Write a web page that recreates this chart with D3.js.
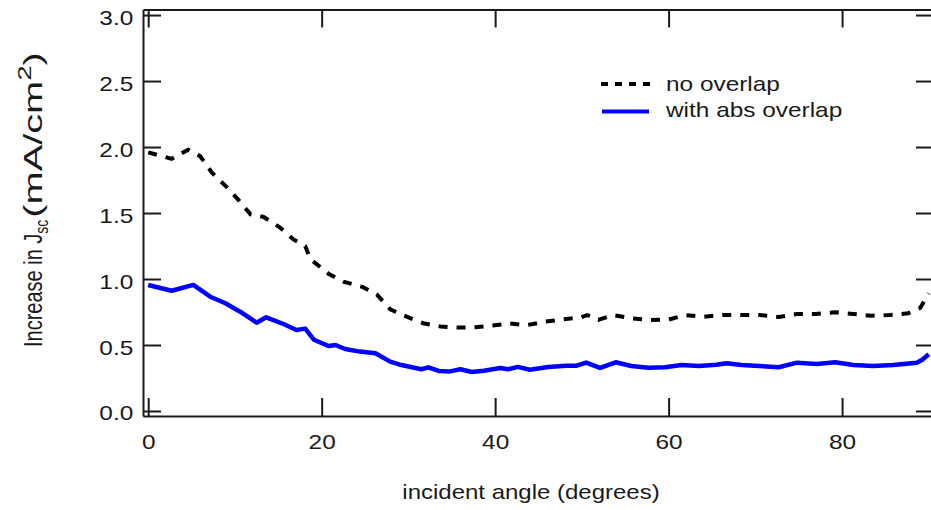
<!DOCTYPE html>
<html>
<head>
<meta charset="utf-8">
<script src="https://cdn.jsdelivr.net/npm/d3@7"></script>
<style>
  body { margin: 0; background: #fff; }
  text { font-family: "Liberation Sans", Arial, Helvetica, sans-serif; fill: #1a1a1a; }
  .axis text { font-size: 20px; }
  .axis line, .axis path { stroke: #1a1a1a; stroke-width: 2; }
</style>
</head>
<body>
<svg id="chart" width="931" height="510"></svg>
<script>
// values
var noOverlapAngle = [0, 2.7, 4.6, 6.0, 7.3, 9.0, 10.4, 11.8, 13.3, 15.2, 16.75, 18.1, 18.7, 20.8, 22.5, 24.7, 26.4, 27.9,
    29.8, 31.7, 33.7, 35.7, 37.6, 39.7, 41.7, 43.6, 45.8, 47.9, 49.9, 50.6, 51.9, 53.6, 55.7, 57.9, 60.0, 61.9,
    64.0, 66.2, 68.4, 70.5, 72.7, 74.8, 76.9, 79.2, 81.3, 83.4, 85.5, 87.6, 89.0, 90.0];
var noOverlapValue = [1.96, 1.91, 1.98, 1.93, 1.81, 1.70, 1.60, 1.49, 1.47, 1.39, 1.30, 1.25, 1.15, 1.04, 0.98, 0.94, 0.88, 0.77,
    0.715, 0.665, 0.64, 0.632, 0.634, 0.647, 0.664, 0.65, 0.677, 0.695, 0.71, 0.727, 0.69, 0.727, 0.702, 0.689, 0.692, 0.727,
    0.714, 0.727, 0.727, 0.727, 0.712, 0.735, 0.735, 0.748, 0.735, 0.722, 0.727, 0.74, 0.78, 0.89];

var absOverlapAngle = [0, 2.7, 5.2, 7.15, 8.9, 10.6, 12.5, 13.6, 15.6, 17.1, 18.1, 19.1, 20.8, 21.6, 22.7, 24.4, 26.2, 27.9,
    29.2, 31.5, 32.3, 33.5, 34.8, 36.0, 37.3, 38.7, 40.6, 41.5, 42.6, 44.0, 46.1, 48.2, 49.4, 50.5, 52.1, 53.9, 55.7,
    57.7, 59.6, 61.5, 63.5, 65.5, 66.7, 68.4, 70.5, 72.7, 74.8, 77.1, 79.2, 81.3, 83.6, 85.9, 88.6, 89.2, 90.0];
var absOverlapValue = [0.955, 0.911, 0.955, 0.866, 0.816, 0.752, 0.669, 0.71, 0.659, 0.614, 0.624, 0.54, 0.492, 0.50, 0.47, 0.45, 0.437, 0.374,
    0.348, 0.316, 0.331, 0.303, 0.30, 0.316, 0.295, 0.305, 0.325, 0.316, 0.334, 0.312, 0.333, 0.342, 0.343, 0.367, 0.326, 0.369, 0.341,
    0.327, 0.331, 0.348, 0.341, 0.35, 0.362, 0.348, 0.341, 0.331, 0.366, 0.356, 0.369, 0.348, 0.341, 0.348, 0.366, 0.386, 0.43];

var xTicks = [0, 20, 40, 60, 80];
var yTicks = [0, 0.5, 1.0, 1.5, 2.0, 2.5, 3.0];
var seriesNames = ["no overlap", "with abs overlap"];
var xTitle = "incident angle (degrees)";

var svg = d3.select("#chart"),
    plotLeft = 143, plotRight = 934, plotTop = 9.5, plotBottom = 416,
    stretch = 1.22; // the picture's text is a bit wider than Arial

var x = d3.scaleLinear().domain([-0.6, 90.6]).range([plotLeft, plotRight]);
var y = d3.scaleLinear().domain([-0.038, 3.042]).range([plotBottom, plotTop]);

// frame: four axes, ticks pointing inward
var gx = svg.append("g")
    .attr("class", "axis")
    .attr("transform", "translate(0," + plotBottom + ")")
    .call(d3.axisBottom(x).tickValues(xTicks).tickSizeInner(-18).tickSizeOuter(0).tickPadding(19).tickFormat(d3.format("d")));
gx.selectAll("text").attr("transform", "scale(" + stretch + ",1)");

var gy = svg.append("g")
    .attr("class", "axis")
    .attr("transform", "translate(" + plotLeft + ",0)")
    .call(d3.axisLeft(y).tickValues(yTicks).tickSizeInner(-18).tickSizeOuter(0).tickPadding(8).tickFormat(d3.format(".1f")));
gy.selectAll("text").attr("dy", "0.45em").attr("transform", "scale(" + stretch + ",1)");

svg.append("g")
    .attr("class", "axis")
    .attr("transform", "translate(0," + plotTop + ")")
    .call(d3.axisTop(x).tickValues(xTicks).tickSizeInner(-18).tickSizeOuter(0).tickFormat(""));

svg.append("g")
    .attr("class", "axis")
    .attr("transform", "translate(" + plotRight + ",0)")
    .call(d3.axisRight(y).tickValues(yTicks).tickSizeInner(-18).tickSizeOuter(0).tickFormat(""));

var line = d3.line()
    .x(function(d) { return x(d[0]); })
    .y(function(d) { return y(d[1]); });

svg.append("path")
    .datum(d3.zip(noOverlapAngle, noOverlapValue))
    .attr("fill", "none")
    .attr("stroke", "#000")
    .attr("stroke-width", 4)
    .attr("stroke-dasharray", "9,9")
    .attr("d", line);

svg.append("path")
    .datum(d3.zip(absOverlapAngle, absOverlapValue))
    .attr("fill", "none")
    .attr("stroke", "#0000ff")
    .attr("stroke-width", 4.5)
    .attr("stroke-linejoin", "round")
    .attr("d", line);

// legend
var legend = svg.append("g");
legend.append("line")
    .attr("x1", 601).attr("x2", 650).attr("y1", 84).attr("y2", 84)
    .attr("stroke", "#000").attr("stroke-width", 4).attr("stroke-dasharray", "7,7");
legend.append("line")
    .attr("x1", 602).attr("x2", 649).attr("y1", 111.5).attr("y2", 111.5)
    .attr("stroke", "#0000ff").attr("stroke-width", 4);
legend.selectAll("text.lbl")
    .data(seriesNames)
    .enter().append("text")
    .attr("class", "lbl")
    .attr("font-size", 20)
    .attr("transform", function(d, i) { return "translate(666," + (91 + i * 26) + ") scale(" + stretch + ",1)"; })
    .text(function(d) { return d; });

// axis titles
svg.append("text")
    .attr("font-size", 20)
    .attr("text-anchor", "middle")
    .attr("transform", "translate(531,499) scale(1.2,1)")
    .text(xTitle);

var t1 = svg.append("text")
    .attr("font-size", 20)
    .attr("transform", "translate(42,347) scale(1.25,1) rotate(-90)");
t1.append("tspan").text("Increase in J");
t1.append("tspan").attr("font-size", 14).attr("dy", 5).text("sc");
var len1 = t1.node().getComputedTextLength();

var t2 = svg.append("text")
    .attr("font-size", 20);
t2.append("tspan").text("(mA/cm");
t2.append("tspan").attr("font-size", 14).attr("dy", -9).text("2");
t2.append("tspan").attr("dy", 9).text(")");
var len2 = t2.node().getComputedTextLength();
var yStart = 347 - len1 - 2;
var k2 = (yStart - 52) / len2;
t2.attr("transform", "translate(42," + yStart + ") scale(1.25,1) rotate(-90) scale(" + k2 + ",1)");
</script>
</body>
</html>
